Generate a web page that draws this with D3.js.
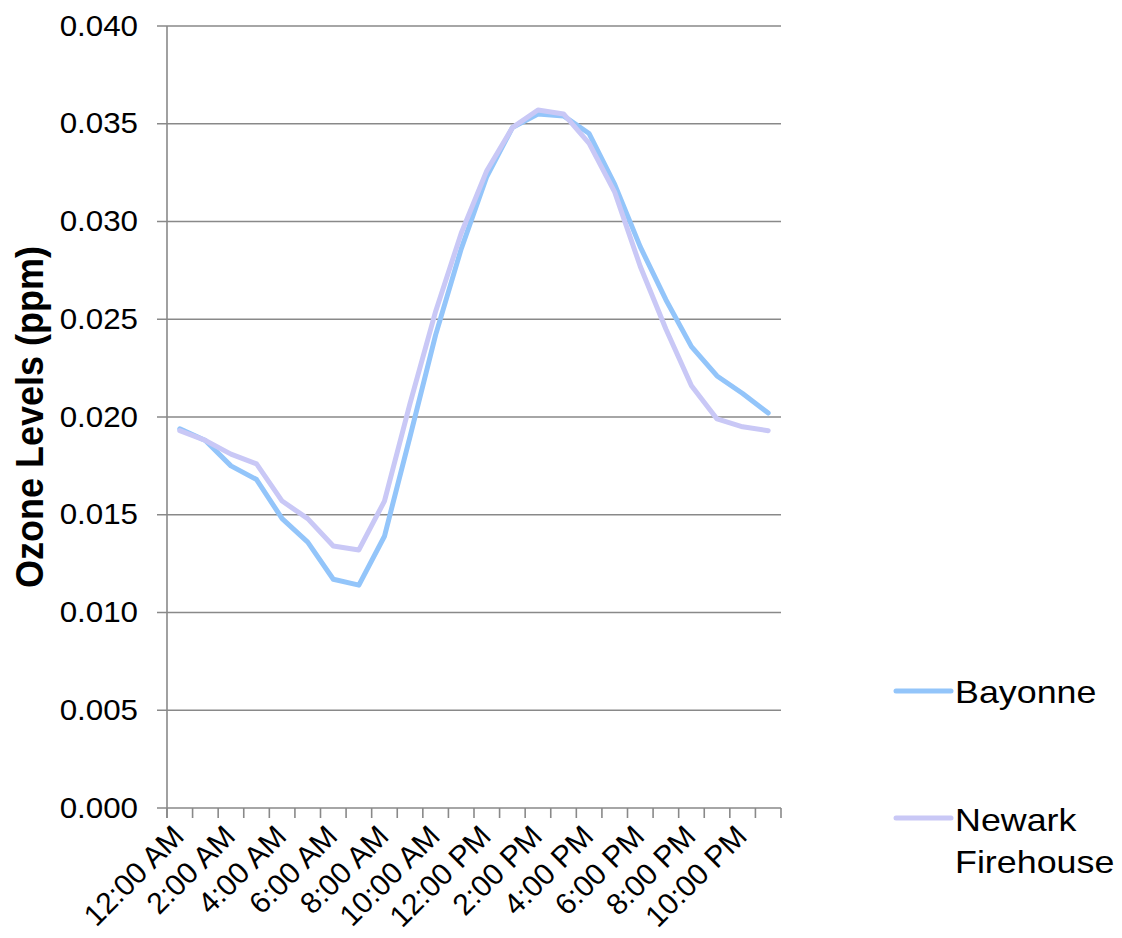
<!DOCTYPE html>
<html><head><meta charset="utf-8">
<script src="https://cdn.jsdelivr.net/npm/d3@7"></script>
<style>body{margin:0;background:#fff}svg{display:block}text{font-family:"Liberation Sans",Arial,sans-serif}</style>
</head><body>
<script>
const categories = ["12:00 AM","1:00 AM","2:00 AM","3:00 AM","4:00 AM","5:00 AM","6:00 AM","7:00 AM","8:00 AM","9:00 AM","10:00 AM","11:00 AM",
  "12:00 PM","1:00 PM","2:00 PM","3:00 PM","4:00 PM","5:00 PM","6:00 PM","7:00 PM","8:00 PM","9:00 PM","10:00 PM","11:00 PM"];
const bayonne = [0.0194,0.0188,0.0175,0.0168,0.0148,0.0136,0.0117,0.0114,0.0139,0.0190,0.0242,0.0286,
  0.0323,0.0348,0.0355,0.0354,0.0345,0.0319,0.0287,0.0260,0.0236,0.0221,0.0212,0.0202];
const newark = [0.0193,0.0188,0.0181,0.0176,0.0157,0.0148,0.0134,0.0132,0.0157,0.0207,0.0254,0.0294,
  0.0326,0.0348,0.0357,0.0355,0.0340,0.0315,0.0277,0.0245,0.0216,0.0199,0.0195,0.0193];
const yTicks = [0,0.005,0.010,0.015,0.020,0.025,0.030,0.035,0.040];
const seriesNames = ["Bayonne","Newark Firehouse"];
const seriesColors = ["#93c5fa","#c9c8f6"];

const W=1122,H=938;
const svg=d3.select("body").append("svg").attr("width",W).attr("height",H);
const L=167,R=781,T=26,B=808;
const x=d3.scaleBand().domain(categories).range([L,R]).paddingInner(0).paddingOuter(0);
const y=d3.scaleLinear().domain([0,0.04]).range([B,T]);
const sx=1.08;

// gridlines
svg.append("g").selectAll("line").data(yTicks).join("line")
  .attr("x1",L-10).attr("x2",R).attr("y1",d=>y(d)).attr("y2",d=>y(d))
  .attr("stroke","#898989").attr("stroke-width",1.6);
// y axis line
svg.append("line").attr("x1",L).attr("x2",L).attr("y1",T).attr("y2",B+10)
  .attr("stroke","#898989").attr("stroke-width",1.6);
// x ticks
const xt=categories.map(c=>x(c)).concat([R]);
svg.append("g").selectAll("line").data(xt).join("line")
  .attr("x1",d=>d).attr("x2",d=>d).attr("y1",B).attr("y2",B+10)
  .attr("stroke","#898989").attr("stroke-width",1.6);
// y labels
svg.append("g").selectAll("text").data(yTicks).join("text")
  .attr("transform",d=>`translate(138,${y(d)+9.5}) scale(${sx},1)`).attr("text-anchor","end")
  .attr("font-size",29).attr("fill","#000").text(d=>d3.format(".3f")(d));
// x labels
svg.append("g").selectAll("text").data(categories.filter((c,i)=>i%2===0)).join("text")
  .attr("text-anchor","end").attr("font-size",30).attr("fill","#000")
  .attr("transform",d=>`translate(${x(d)+x.bandwidth()/2+6},${B+30}) rotate(-45)`)
  .text(d=>d);
// axis title
svg.append("text").attr("transform",`translate(43,417) scale(${sx},1) rotate(-90)`).attr("text-anchor","middle")
  .attr("font-size",36).attr("font-weight","bold").attr("fill","#000").text("Ozone Levels (ppm)");

const line=d3.line().x((d,i)=>x(categories[i])+x.bandwidth()/2).y(d=>y(d));
[bayonne,newark].forEach((s,k)=>{
  svg.append("path").datum(s).attr("d",line).attr("fill","none")
    .attr("stroke",seriesColors[k]).attr("stroke-width",5).attr("stroke-linejoin","round").attr("stroke-linecap","round");
});

// legend
const lg=svg.append("g");
const legY=[691,818], txtY=[703,831];
seriesNames.forEach((n,k)=>{
  lg.append("line").attr("x1",896).attr("x2",951).attr("y1",legY[k]).attr("y2",legY[k])
    .attr("stroke",seriesColors[k]).attr("stroke-width",5).attr("stroke-linecap","round");
  const words = k===0 ? [n] : ["Newark","Firehouse"];
  const t=lg.append("text").attr("transform",`translate(955,${txtY[k]}) scale(1.12,1)`).attr("font-size",32);
  words.forEach((w,j)=>t.append("tspan").attr("x",0).attr("dy",j?42.5:0).text(w));
});
</script>
</body></html>
